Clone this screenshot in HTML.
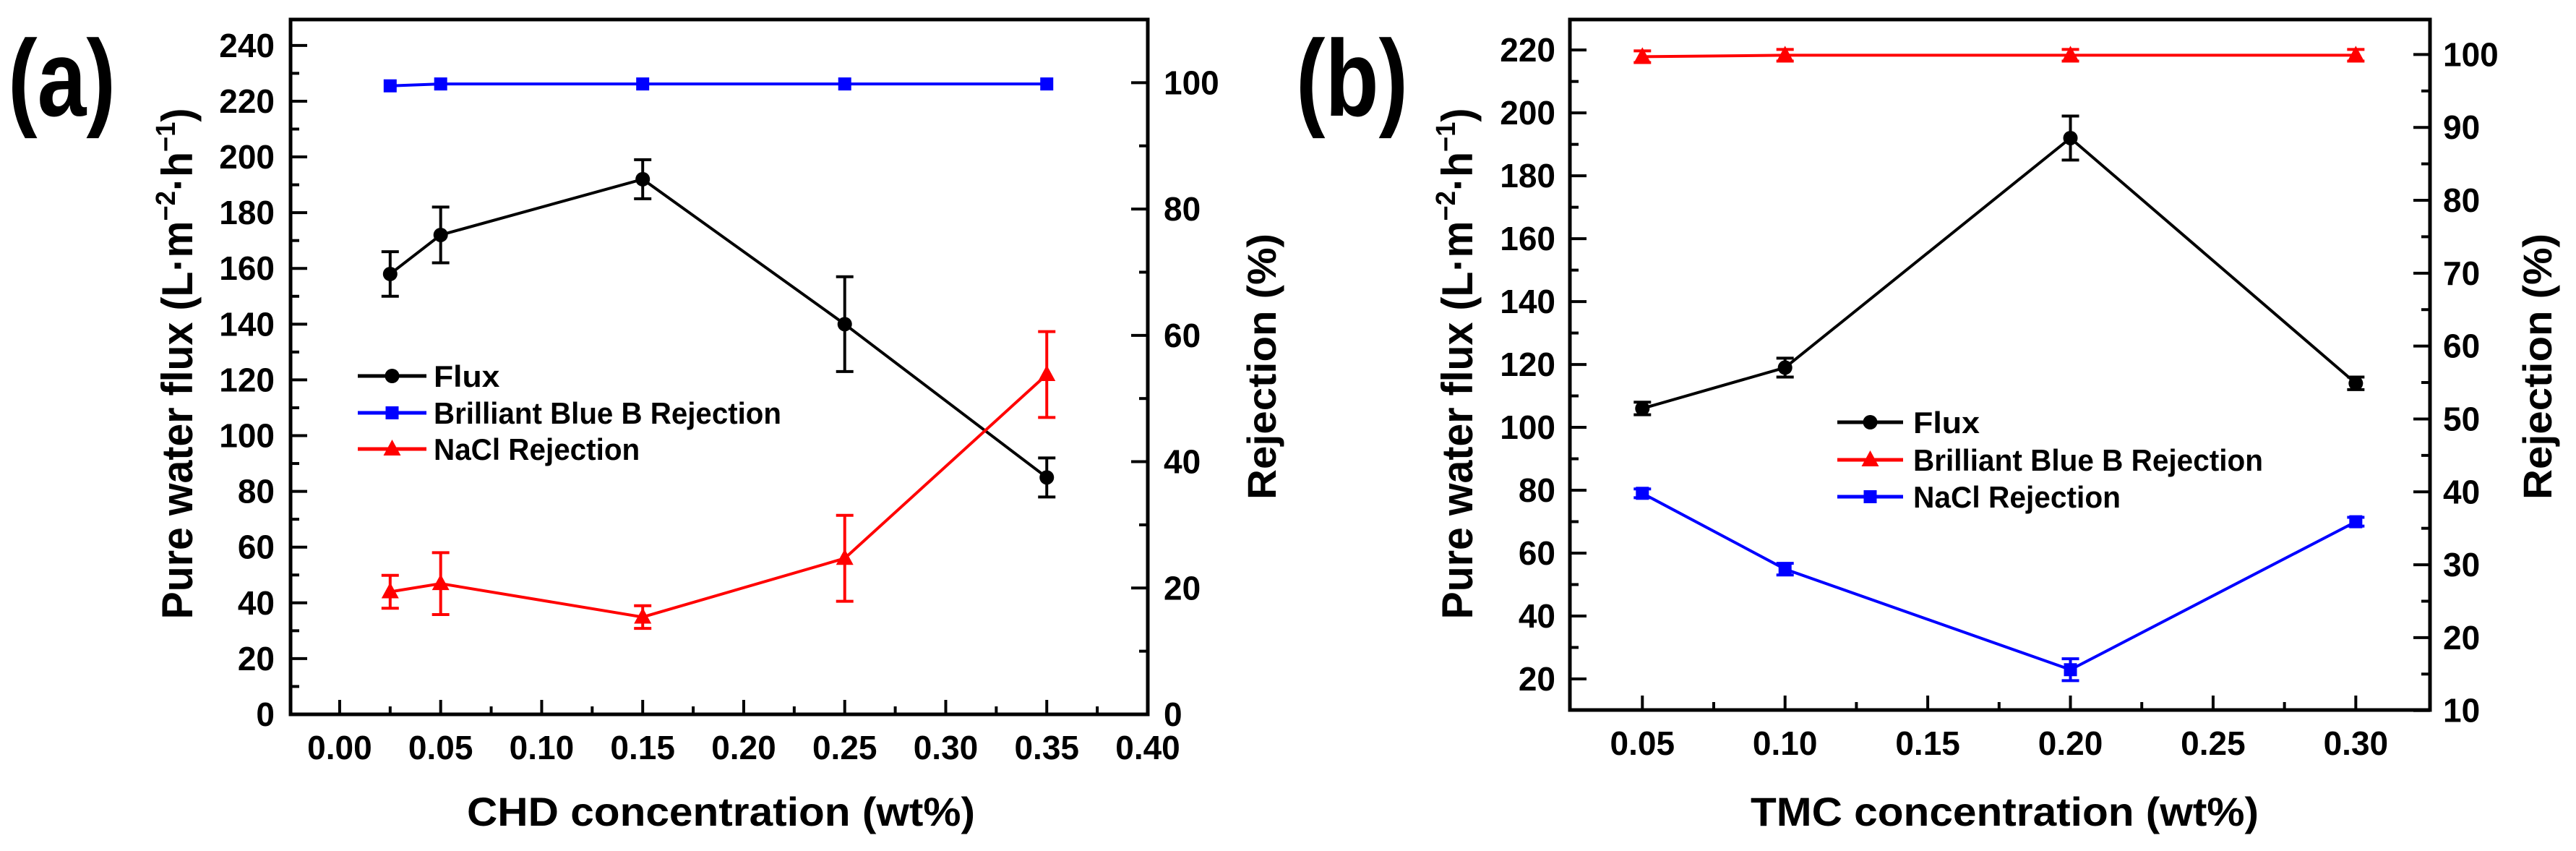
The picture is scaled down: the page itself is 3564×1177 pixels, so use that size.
<!DOCTYPE html>
<html><head><meta charset="utf-8"><style>
html,body{margin:0;padding:0;background:#fff}
svg text{font-family:"Liberation Sans",Arial,sans-serif;font-weight:bold;fill:#000}
</style></head><body>
<svg id="fig" xmlns="http://www.w3.org/2000/svg" width="3564" height="1172" viewBox="0 0 3564 1172"></svg>
<script>
// Panel (a) data
const aX = [0.025, 0.05, 0.15, 0.25, 0.35];
const aFlux = [158, 172, 192, 140, 85];
const aFluxErr = [8, 10, 7, 17, 7];
const aBBB = [99.5, 99.8, 99.8, 99.8, 99.8];
const aNaCl = [19.4, 20.7, 15.4, 24.7, 53.8];
const aNaClErr = [2.6, 4.9, 1.8, 6.8, 6.8];
const aXTicks = ["0.00","0.05","0.10","0.15","0.20","0.25","0.30","0.35","0.40"];
const aYTicks = [0,20,40,60,80,100,120,140,160,180,200,220,240];
const aRTicks = [0,20,40,60,80,100];
// Panel (b) data
const bX = [0.05, 0.10, 0.20, 0.30];
const bFlux = [106, 119, 192, 114];
const bFluxErr = [2, 3, 7, 2];
const bBBB = [99.7, 99.9, 99.9, 99.9];
const bBBBErr = [0.8, 0.8, 0.8, 0.8];
const bNaCl = [39.8, 29.4, 15.6, 35.9];
const bNaClErr = [0.6, 0.8, 1.5, 0.6];
const bXTicks = ["0.05","0.10","0.15","0.20","0.25","0.30"];
const bYTicks = [20,40,60,80,100,120,140,160,180,200,220];
const bRTicks = [10,20,30,40,50,60,70,80,90,100];

const NS="http://www.w3.org/2000/svg";
const svg=document.getElementById('fig');
function el(tag,attrs,parent){const e=document.createElementNS(NS,tag);for(const k in attrs)e.setAttribute(k,attrs[k]);(parent||svg).appendChild(e);return e;}
function lin(d0,d1,r0,r1){return v=>r0+(v-d0)*(r1-r0)/(d1-d0);}

function panel(cfg){
  const g=el('g',{});
  
  
  const {L,R,T,B}=cfg;
  const x=lin(cfg.xd[0],cfg.xd[1],L,R);
  const yl=lin(cfg.yl[0],cfg.yl[1],B,T);
  const yr=lin(cfg.yr[0],cfg.yr[1],B,T);
  const fr=el('rect',{x:L,y:T,width:R-L,height:B-T,fill:'none',stroke:'#000','stroke-width':5},g);
  
  
  cfg.xTicks.forEach((t,i)=>{
    const v=parseFloat(t);const px=x(v);
    el('line',{x1:px,x2:px,y1:B,y2:B-20,stroke:'#000','stroke-width':4},g);
    const m=v+cfg.xStep/2;
    if(x(m)<R-5) el('line',{x1:x(m),x2:x(m),y1:B,y2:B-11,stroke:'#000','stroke-width':4},g);
    const tx=el('text',{x:px,y:B+62,'font-size':46,'text-anchor':'middle'},g);tx.textContent=t;
    
    
  });
  cfg.yTicks.forEach(v=>{
    const py=yl(v);
    el('line',{x1:L,x2:L+23,y1:py,y2:py,stroke:'#000','stroke-width':4},g);
    const m=v+cfg.yStep/2;
    if(yl(m)>T+5) el('line',{x1:L,x2:L+12,y1:yl(m),y2:yl(m),stroke:'#000','stroke-width':4},g);
    const tx=el('text',{x:cfg.lLabX,y:py+16,'font-size':46,'text-anchor':'end'},g);tx.textContent=v;
    
    
  });
  if(cfg.yMinorFirst!==undefined) el('line',{x1:L,x2:L+12,y1:yl(cfg.yMinorFirst),y2:yl(cfg.yMinorFirst),stroke:'#000','stroke-width':4},g);
  cfg.rTicks.forEach(v=>{
    const py=yr(v);
    el('line',{x1:R,x2:R-23,y1:py,y2:py,stroke:'#000','stroke-width':4},g);
    const m=v+cfg.rStep/2;
    if(yr(m)>T+5) el('line',{x1:R,x2:R-12,y1:yr(m),y2:yr(m),stroke:'#000','stroke-width':4},g);
    const tx=el('text',{x:cfg.rLabX,y:py+16,'font-size':46,'text-anchor':'start'},g);tx.textContent=v;
    
    
  });
  let t=el('text',{x:(cfg.xtX[0]+cfg.xtX[1])/2,y:1142,'font-size':56,'text-anchor':'middle',textLength:cfg.xtX[1]-cfg.xtX[0],lengthAdjust:'spacingAndGlyphs'},g);
  t.textContent=cfg.xTitle;
  
  
  t=el('text',{x:0,y:0,'font-size':60,'text-anchor':'middle',textLength:707,lengthAdjust:'spacingAndGlyphs',transform:`translate(${cfg.ltX+21},503) rotate(-90)`},g);
  t.innerHTML='Pure water flux (L·m<tspan dy="-24" font-size="38">−2</tspan><tspan dy="24">·h</tspan><tspan dy="-24" font-size="38">−1</tspan><tspan dy="24">)</tspan>';
  
  
  t=el('text',{x:0,y:0,'font-size':56,'text-anchor':'middle',textLength:368,lengthAdjust:'spacingAndGlyphs',transform:`translate(${cfg.rtX+20},507) rotate(-90)`},g);
  t.textContent='Rejection (%)';
  
  
  t=el('text',{x:cfg.plX[0],y:160,'font-size':150,textLength:cfg.plX[1]-cfg.plX[0],lengthAdjust:'spacingAndGlyphs'},g);
  t.textContent=cfg.label;
  
  

  function series(xs,ys,errs,yf,color,marker,name,lw){
    const sg=el('g',{},g);
    
    
    el('polyline',{points:xs.map((v,i)=>x(v)+','+yf(ys[i])).join(' '),fill:'none',stroke:color,'stroke-width':lw},sg);
    xs.forEach((v,i)=>{
      const px=x(v),py=yf(ys[i]);
      if(errs){const e=errs[i];const y1=yf(ys[i]+e),y2=yf(ys[i]-e);
        el('line',{x1:px,x2:px,y1:y1,y2:y2,stroke:color,'stroke-width':4},sg);
        el('line',{x1:px-12,x2:px+12,y1:y1,y2:y1,stroke:color,'stroke-width':4},sg);
        el('line',{x1:px-12,x2:px+12,y1:y2,y2:y2,stroke:color,'stroke-width':4},sg);}
      drawMarker(sg,marker,px,py,color,name+'-point');
    });
  }
  function drawMarker(p,marker,px,py,color,name){
    let m;
    if(marker==='circle') m=el('circle',{cx:px,cy:py,r:10,fill:color},p);
    else if(marker==='square') m=el('rect',{x:px-9,y:py-9,width:18,height:18,fill:color},p);
    else m=el('polygon',{points:`${px},${py-13} ${px+12},${py+9} ${px-12},${py+9}`,fill:color},p);
    
    
  }
  series(cfg.sx,cfg.flux,cfg.fluxErr,yl,'#000','circle','flux-series',4);
  series(cfg.sx,cfg.bbb,cfg.bbbErr,yr,cfg.bbbColor,cfg.bbbMarker,'bbb-rejection-series',4);
  series(cfg.sx,cfg.nacl,cfg.naclErr,yr,cfg.naclColor,cfg.naclMarker,'nacl-rejection-series',4);
  const lg=el('g',{},g);
  
  
  const items=[['Flux','#000','circle',45],['Brilliant Blue B Rejection',cfg.bbbColor,cfg.bbbMarker,cfg.legW],['NaCl Rejection',cfg.naclColor,cfg.naclMarker,cfg.legW*0.593]];
  items.forEach((it,i)=>{
    const ly=cfg.legY[i];
    el('line',{x1:cfg.legX[0],x2:cfg.legX[1],y1:ly,y2:ly,stroke:it[1],'stroke-width':5},lg);
    drawMarker(lg,it[2],(cfg.legX[0]+cfg.legX[1])/2,ly,it[1],'legend-marker');
    const tt=el('text',{x:cfg.legT,y:ly+15,'font-size':42,textLength:i===0?cfg.legW*0.19:it[3],lengthAdjust:'spacingAndGlyphs'},lg);
    tt.textContent=it[0];
    
    
  });
}

panel({name:'panel-a',L:402,R:1588,T:27,B:988,xd:[-0.0243,0.40],yl:[0,249.3],yr:[0,110],
  xTicks:aXTicks,xStep:0.05,yTicks:aYTicks,yStep:20,rTicks:aRTicks,rStep:20,
  lLabX:380,rLabX:1610,xtX:[646,1349],xTitle:'CHD concentration (wt%)',ltX:245,rtX:1745,plX:[11,160],label:'(a)',
  sx:aX,flux:aFlux,fluxErr:aFluxErr,bbb:aBBB,bbbErr:null,nacl:aNaCl,naclErr:aNaClErr,
  bbbColor:'#0000ff',bbbMarker:'square',naclColor:'#ff0000',naclMarker:'triangle',
  legY:[520,571,621],legX:[495,590],legT:600,legW:481});
panel({name:'panel-b',L:2172,R:3362,T:27,B:982,xd:[0.0246,0.326],yl:[10.1,229.7],yr:[10.07,104.8],
  xTicks:bXTicks,xStep:0.05,yTicks:bYTicks,yStep:20,rTicks:bRTicks,rStep:10,yMinorFirst:10,
  lLabX:2152,rLabX:3380,xtX:[2422,3125],xTitle:'TMC concentration (wt%)',ltX:2016,rtX:3510,plX:[1793,1948],label:'(b)',
  sx:bX,flux:bFlux,fluxErr:bFluxErr,bbb:bBBB,bbbErr:bBBBErr,nacl:bNaCl,naclErr:bNaClErr,
  bbbColor:'#ff0000',bbbMarker:'triangle',naclColor:'#0000ff',naclMarker:'square',
  legY:[584,636,687],legX:[2542,2633],legT:2647,legW:484});
</script>
</body></html>
